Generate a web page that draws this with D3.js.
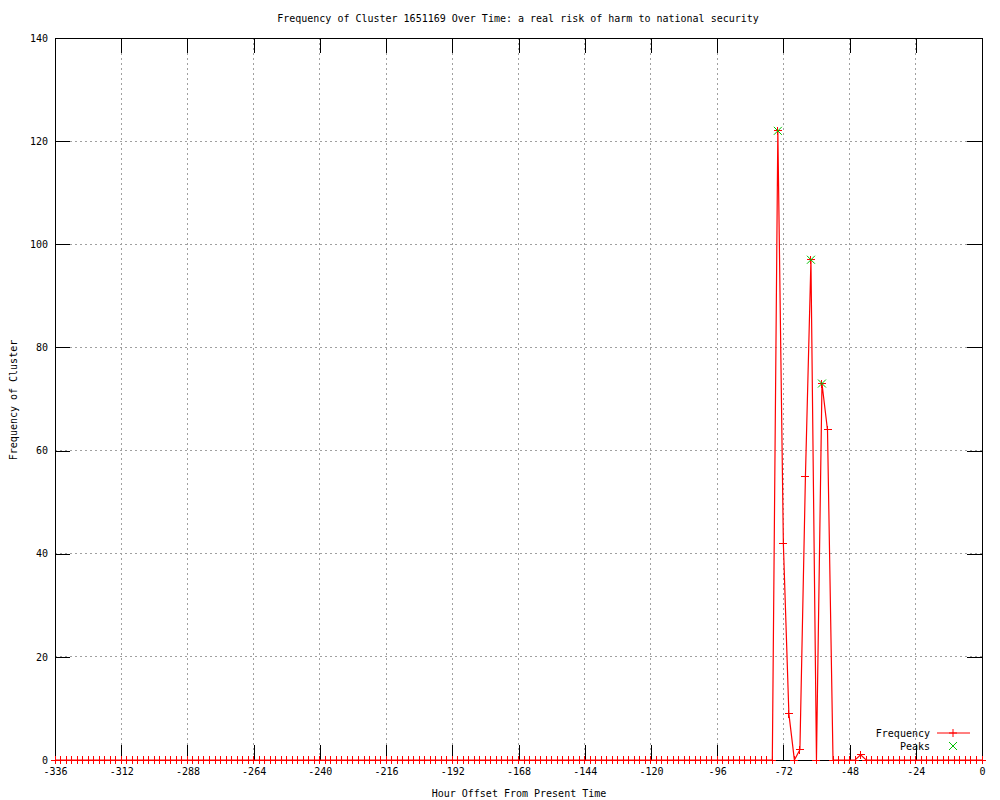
<!DOCTYPE html>
<html lang="en">
<head>
<meta charset="UTF-8">
<script src="https://d3js.org/d3.v7.min.js"></script>
<title>Frequency of Cluster</title>
<style>
  body { margin: 0; background: #fff; }
  text { font-family: "DejaVu Sans Mono", "Liberation Mono", monospace; font-size: 10px; fill: #000; }
</style>
</head>
<body>
<div id="chart"></div>
<script>
// hour offsets, one point every 2 hours
const hours = [
  -336,-334,-332,-330,-328,-326,-324,-322,-320,-318,-316,-314,
  -312,-310,-308,-306,-304,-302,-300,-298,-296,-294,-292,-290,
  -288,-286,-284,-282,-280,-278,-276,-274,-272,-270,-268,-266,
  -264,-262,-260,-258,-256,-254,-252,-250,-248,-246,-244,-242,
  -240,-238,-236,-234,-232,-230,-228,-226,-224,-222,-220,-218,
  -216,-214,-212,-210,-208,-206,-204,-202,-200,-198,-196,-194,
  -192,-190,-188,-186,-184,-182,-180,-178,-176,-174,-172,-170,
  -168,-166,-164,-162,-160,-158,-156,-154,-152,-150,-148,-146,
  -144,-142,-140,-138,-136,-134,-132,-130,-128,-126,-124,-122,
  -120,-118,-116,-114,-112,-110,-108,-106,-104,-102,-100,-98,
  -96,-94,-92,-90,-88,-86,-84,-82,-80,-78,-76,-74,
  -72,-70,-68,-66,-64,-62,-60,-58,-56,-54,-52,-50,
  -48,-46,-44,-42,-40,-38,-36,-34,-32,-30,-28,-26,
  -24,-22,-20,-18,-16,-14,-12,-10,-8,-6,-4,-2,
  0
]
const frequency = [
  0,0,0,0,0,0,0,0,0,0,0,0,
  0,0,0,0,0,0,0,0,0,0,0,0,
  0,0,0,0,0,0,0,0,0,0,0,0,
  0,0,0,0,0,0,0,0,0,0,0,0,
  0,0,0,0,0,0,0,0,0,0,0,0,
  0,0,0,0,0,0,0,0,0,0,0,0,
  0,0,0,0,0,0,0,0,0,0,0,0,
  0,0,0,0,0,0,0,0,0,0,0,0,
  0,0,0,0,0,0,0,0,0,0,0,0,
  0,0,0,0,0,0,0,0,0,0,0,0,
  0,0,0,0,0,0,0,0,0,0,0,122,
  42,9,0,2,55,97,0,73,64,0,0,0,
  0,0,1,0,0,0,0,0,0,0,0,0,
  0,0,0,0,0,0,0,0,0,0,0,0,
  0
]
const peakHours = [-74, -62, -58]
const peakValues = [122, 97, 73]
const xTicks = [-336,-312,-288,-264,-240,-216,-192,-168,-144,-120,-96,-72,-48,-24,0]
const yTicks = [0,20,40,60,80,100,120,140]

const width = 1000, height = 800
const m = {left: 55, right: 18, top: 38, bottom: 40}

const svg = d3.select("#chart").append("svg")
  .attr("width", width).attr("height", height)

const x = d3.scaleLinear().domain([-336, 0]).range([m.left, width - m.right])
const y = d3.scaleLinear().domain([0, 140]).range([height - m.bottom, m.top])
const x0 = x.range()[0], x1 = x.range()[1], y0 = y.range()[0], y1 = y.range()[1]

// grid
const grid = svg.append("g").attr("stroke", "#a0a0a0").attr("stroke-dasharray", "2,3").attr("shape-rendering", "crispEdges")
grid.selectAll(".gx").data(xTicks.slice(1, -1)).enter().append("line")
  .attr("x1", d => x(d)).attr("x2", d => x(d)).attr("y1", y1).attr("y2", y0)
grid.selectAll(".gy").data(yTicks.slice(1, -1)).enter().append("line")
  .attr("x1", x0).attr("x2", x1).attr("y1", d => y(d)).attr("y2", d => y(d))

// axes: ticks inside on all four sides
const tk = 15
const axes = svg.append("g").attr("shape-rendering", "crispEdges")
axes.append("g").attr("transform", `translate(0,${y0})`)
  .call(d3.axisBottom(x).tickValues(xTicks).tickSize(-tk).tickPadding(8))
axes.append("g").attr("transform", `translate(0,${y1})`)
  .call(d3.axisTop(x).tickValues(xTicks).tickSize(-tk).tickFormat(""))
axes.append("g").attr("transform", `translate(${x0},0)`)
  .call(d3.axisLeft(y).tickValues(yTicks).tickSize(-tk).tickPadding(7))
axes.append("g").attr("transform", `translate(${x1},0)`)
  .call(d3.axisRight(y).tickValues(yTicks).tickSize(-tk).tickFormat(""))
axes.selectAll(".domain").remove()
axes.selectAll("line").attr("stroke", "#000")
axes.selectAll("text").attr("font-family", null).attr("font-size", null).attr("fill", "#000")
axes.selectAll(".tick text").text(function() { return this.textContent.replace("\u2212", "-") })

svg.append("rect").attr("x", x0).attr("y", y1).attr("width", x1 - x0).attr("height", y0 - y1)
  .attr("fill", "none").attr("stroke", "#000").attr("shape-rendering", "crispEdges")

// frequency line and + markers
const pts = hours.map((h, i) => ({h: h, v: frequency[i]}))
svg.append("path").datum(pts)
  .attr("fill", "none").attr("stroke", "#ff0000").attr("stroke-width", 1.2)
  .attr("d", d3.line().x(d => x(d.h)).y(d => y(d.v)))

const plus = "M-4,0H4M0,-4V4"
const cross = "M-4,-4L4,4M-4,4L4,-4"
svg.append("g").selectAll("path").data(pts).enter().append("path")
  .attr("d", plus).attr("stroke", "#ff0000").attr("fill", "none").attr("shape-rendering", "crispEdges")
  .attr("transform", d => `translate(${x(d.h)},${y(d.v)})`)

// peaks
svg.append("g").selectAll("path").data(peakHours).enter().append("path")
  .attr("d", cross).attr("stroke", "#00c000").attr("fill", "none")
  .attr("transform", (d, i) => `translate(${x(d)},${y(peakValues[i])})`)

// legend
const lg = svg.append("g")
lg.append("text").attr("x", 930).attr("y", 737).attr("text-anchor", "end").text("Frequency")
lg.append("line").attr("x1", 937).attr("x2", 970).attr("y1", 733).attr("y2", 733).attr("stroke", "#ff0000")
lg.append("path").attr("d", plus).attr("stroke", "#ff0000").attr("transform", "translate(953,733)")
lg.append("text").attr("x", 930).attr("y", 750).attr("text-anchor", "end").text("Peaks")
lg.append("path").attr("d", cross).attr("stroke", "#00c000").attr("transform", "translate(953,746)")

// titles
svg.append("text").attr("x", 518).attr("y", 22).attr("text-anchor", "middle")
  .text("Frequency of Cluster 1651169 Over Time: a real risk of harm to national security")
svg.append("text").attr("x", 519).attr("y", 797).attr("text-anchor", "middle")
  .text("Hour Offset From Present Time")
svg.append("text").attr("transform", "translate(17,400) rotate(-90)").attr("text-anchor", "middle")
  .text("Frequency of Cluster")
</script>
</body>
</html>
